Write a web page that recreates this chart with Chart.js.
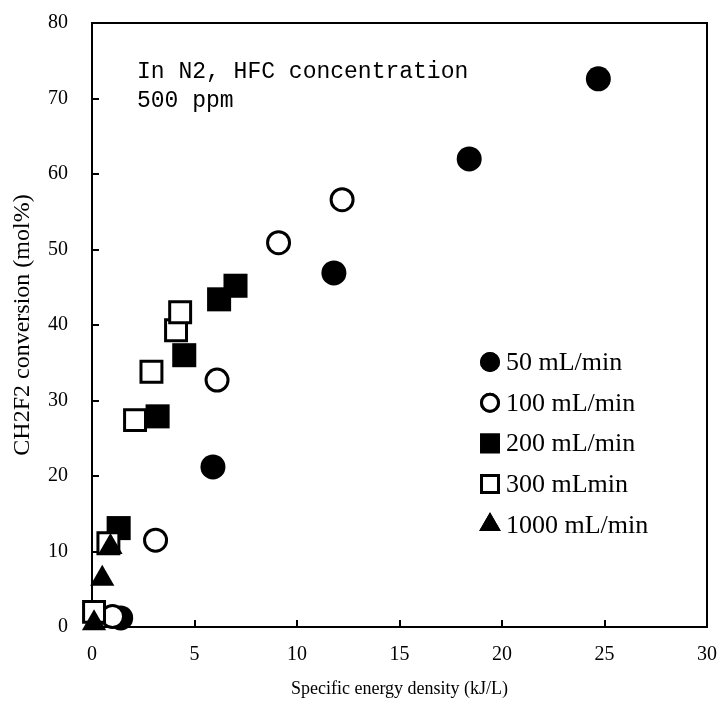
<!DOCTYPE html>
<html>
<head>
<meta charset="utf-8">
<script src="https://cdn.jsdelivr.net/npm/chart.js@4.4.0/dist/chart.umd.min.js"></script>
<style>
  html, body { margin: 0; padding: 0; background: #fff; }
  #wrap { width: 717px; height: 708px; position: relative; }
</style>
</head>
<body>
<div id="wrap"><canvas id="c" width="717" height="708"></canvas></div>
<script>
// ---- data ----
const seriesLabels = ['50 mL/min', '100 mL/min', '200 mL/min', '300 mLmin', '1000 mL/min'];
const flow50X   = [1.4, 5.9, 11.8, 18.4, 24.7];
const flow50Y   = [1.2, 21.2, 46.9, 62.0, 72.6];
const flow100X  = [1.0, 3.1, 6.1, 9.1, 12.2];
const flow100Y  = [1.4, 11.5, 32.7, 50.9, 56.6];
const flow200X  = [1.3, 3.2, 4.5, 6.2, 7.0];
const flow200Y  = [13.1, 27.9, 36.0, 43.4, 45.2];
const flow300X  = [0.1, 0.8, 2.1, 2.9, 4.1, 4.3];
const flow300Y  = [2.0, 11.1, 27.4, 33.8, 39.3, 41.7];
const flow1000X = [0.1, 0.5, 0.9];
const flow1000Y = [0.5, 6.4, 10.6];
const xTicks = [0, 5, 10, 15, 20, 25, 30];
const yTicks = [0, 10, 20, 30, 40, 50, 60, 70, 80];
const noteLines = ['In N2, HFC concentration', '500 ppm'];
const xTitle = 'Specific energy density (kJ/L)';
const yTitle = 'CH2F2 conversion (mol%)';

const pts = (xs, ys) => xs.map((x, i) => ({ x: x, y: ys[i] }));

const datasets = [
  { label: seriesLabels[0], data: pts(flow50X, flow50Y), pointStyle: 'circle',
    pointRadius: 12.5, backgroundColor: '#000', borderColor: '#000', borderWidth: 0, order: 4,
    legendRadius: 10 },
  { label: seriesLabels[1], data: pts(flow100X, flow100Y), pointStyle: 'circle',
    pointRadius: 11, backgroundColor: '#fff', borderColor: '#000', borderWidth: 3, order: 3,
    legendRadius: 8.5 },
  { label: seriesLabels[2], data: pts(flow200X, flow200Y), pointStyle: 'rect',
    pointRadius: 17, backgroundColor: '#000', borderColor: '#000', borderWidth: 0, order: 2,
    legendRadius: 14 },
  { label: seriesLabels[3], data: pts(flow300X, flow300Y), pointStyle: 'rect',
    pointRadius: 14.8, backgroundColor: '#fff', borderColor: '#000', borderWidth: 3, order: 1,
    legendRadius: 12 },
  { label: seriesLabels[4], data: pts(flow1000X, flow1000Y), pointStyle: 'triangle',
    pointRadius: 14, backgroundColor: '#000', borderColor: '#000', borderWidth: 0, order: 0,
    legendRadius: 12.5 }
];
datasets.forEach(d => {
  d.pointBackgroundColor = d.backgroundColor;
  d.pointBorderColor = d.borderColor;
  d.pointBorderWidth = d.borderWidth;
  d.pointHoverRadius = d.pointRadius;
  d.showLine = false;
  d.clip = false;
});

const serif = "'Liberation Serif', 'Times New Roman', serif";

const framePlugin = {
  id: 'frame',
  beforeDatasetsDraw(chart) {
    const ctx = chart.ctx, a = chart.chartArea;
    const xs = chart.scales.x, ys = chart.scales.y;
    ctx.save();
    ctx.strokeStyle = '#000';
    ctx.lineWidth = 2;
    ctx.beginPath();
    ctx.moveTo(a.left, a.bottom); ctx.lineTo(a.left, a.top);
    ctx.lineTo(a.right, a.top); ctx.lineTo(a.right, a.bottom);
    ctx.lineTo(a.left, a.bottom);
    ctx.stroke();
    // inward tick marks
    ctx.beginPath();
    xTicks.forEach(v => {
      const px = Math.round(xs.getPixelForValue(v));
      ctx.moveTo(px, a.bottom); ctx.lineTo(px, a.bottom - 7);
    });
    yTicks.forEach(v => {
      const py = Math.round(ys.getPixelForValue(v));
      ctx.moveTo(a.left, py); ctx.lineTo(a.left + 7, py);
    });
    ctx.stroke();
    ctx.restore();
  },
  afterDraw(chart) {
    const ctx = chart.ctx, a = chart.chartArea;
    ctx.save();
    // annotation text
    ctx.fillStyle = '#000';
    ctx.font = "23px 'Liberation Mono', 'DejaVu Sans Mono', monospace";
    ctx.textBaseline = 'alphabetic';
    ctx.textAlign = 'left';
    noteLines.forEach((t, i) => ctx.fillText(t, a.left + 45, a.top + 55 + i * 29));
    // legend inside plot area
    const lx = a.left + 398, ly0 = a.top + 339, dy = 40.7;
    ctx.font = '26px ' + serif;
    ctx.textBaseline = 'middle';
    chart.data.datasets.forEach((d, i) => {
      const y = ly0 + i * dy;
      Chart.helpers.drawPoint(ctx, {
        pointStyle: d.pointStyle, radius: d.legendRadius, rotation: 0,
        borderWidth: d.borderWidth
      }, lx, y);
      ctx.fillStyle = d.backgroundColor;
      ctx.strokeStyle = '#000';
      ctx.lineWidth = d.borderWidth;
      ctx.fill();
      if (d.borderWidth > 0) ctx.stroke();
      ctx.fillStyle = '#000';
      ctx.fillText(d.label, lx + 16, y + 1);
    });
    ctx.restore();
  }
};

new Chart(document.getElementById('c'), {
  type: 'scatter',
  data: { datasets: datasets },
  plugins: [framePlugin],
  options: {
    responsive: false,
    animation: false,
    events: [],
    layout: { autoPadding: false, padding: { top: 23, right: 10, left: 0, bottom: 0 } },
    plugins: { legend: { display: false }, tooltip: { enabled: false } },
    scales: {
      x: {
        type: 'linear', min: 0, max: 30,
        afterFit: s => { s.height = 81; s.paddingLeft = 0; s.paddingRight = 0; },
        afterBuildTicks: s => { s.ticks = xTicks.map(v => ({ value: v })); },
        grid: { display: true, drawOnChartArea: false, drawTicks: false },
        border: { display: false },
        ticks: { color: '#000', padding: 16, font: { family: serif, size: 20 } },
        title: { display: true, text: xTitle, color: '#000', padding: { top: 0, bottom: 8 },
                 font: { family: serif, size: 18 } }
      },
      y: {
        type: 'linear', min: 0, max: 80,
        afterFit: s => { s.width = 92; s.paddingTop = 0; s.paddingBottom = 0; },
        afterBuildTicks: s => { s.ticks = yTicks.map(v => ({ value: v })); },
        grid: { display: true, drawOnChartArea: false, drawTicks: false },
        border: { display: false },
        ticks: { color: '#000', padding: 24, font: { family: serif, size: 20 } },
        title: { display: true, text: yTitle, color: '#000', padding: { top: 8, bottom: 0 },
                 font: { family: serif, size: 24 } }
      }
    }
  }
});
</script>
</body>
</html>
